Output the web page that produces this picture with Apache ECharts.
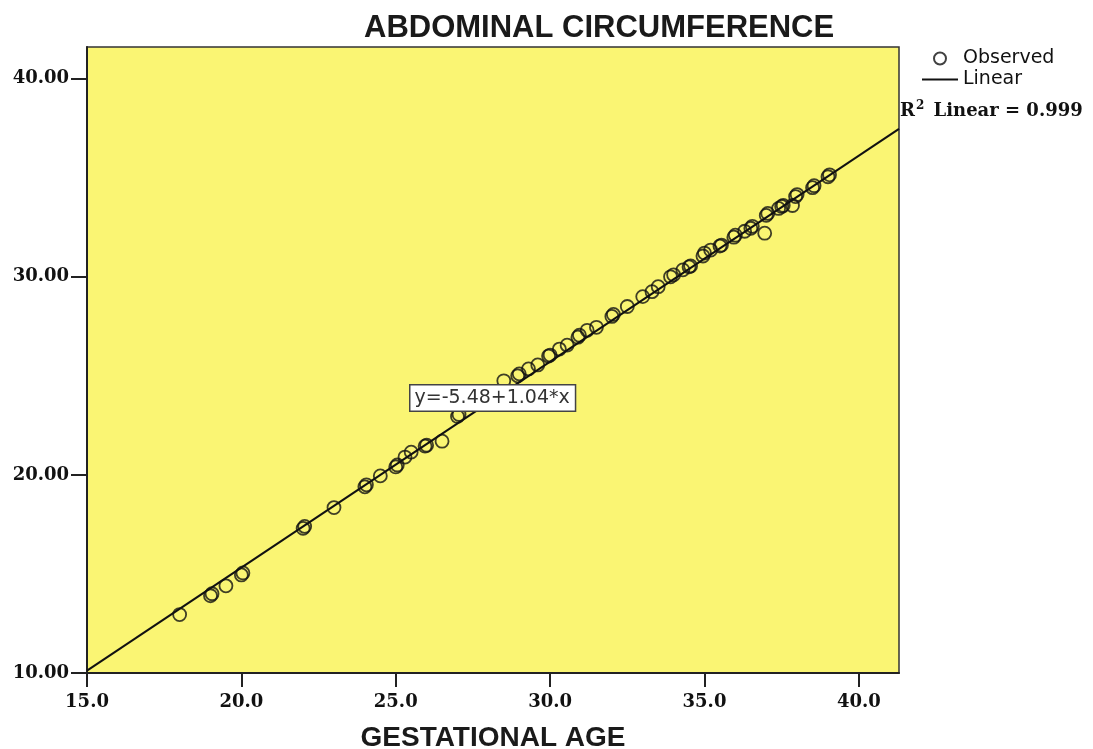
<!DOCTYPE html>
<html>
<head>
<meta charset="utf-8">
<title>Abdominal circumference</title>
<script src="https://cdn.jsdelivr.net/npm/echarts@6/dist/echarts.min.js"></script>
<style>
  html, body { margin: 0; padding: 0; background: #fff; }
  #chart { width: 1093px; height: 749px; }
</style>
</head>
<body>
<div id="chart"></div>
<script>
// observed points (gestational age in weeks, abdominal circumference in cm)
const ageX = [
  18.0, 19.0, 19.05, 19.5, 20.0, 20.05, 22.0, 22.05, 23.0, 24.0,
  24.05, 24.5, 25.0, 25.05, 25.3, 25.5, 25.95, 26.0, 26.5, 27.0,
  27.05, 28.5, 28.95, 29.0, 29.3, 29.6, 29.95, 30.0, 30.3, 30.55,
  30.9, 30.95, 31.2, 31.5, 32.0, 32.05, 32.5, 33.0, 33.3, 33.5,
  33.9, 34.0, 34.3, 34.5, 34.55, 34.95, 35.0, 35.2, 35.5, 35.55,
  35.95, 36.0, 36.3, 36.5, 36.55, 36.95, 37.0, 37.05, 37.4, 37.5,
  37.55, 37.85, 37.95, 38.0, 38.5, 38.55, 39.0, 39.05
];
const acY = [
  12.95, 13.9, 14.0, 14.4, 14.95, 15.05, 17.3, 17.4, 18.35, 19.4,
  19.5, 19.95, 20.4, 20.5, 20.9, 21.15, 21.45, 21.5, 21.7, 22.95,
  23.05, 24.75, 25.0, 25.1, 25.35, 25.55, 26.0, 26.05, 26.35, 26.55,
  26.95, 27.05, 27.3, 27.45, 28.0, 28.1, 28.5, 29.0, 29.25, 29.5,
  30.0, 30.1, 30.35, 30.5, 30.55, 31.05, 31.2, 31.35, 31.55, 31.6,
  32.0, 32.1, 32.3, 32.45, 32.55, 32.2, 33.1, 33.2, 33.45, 33.55,
  33.6, 33.6, 34.05, 34.15, 34.5, 34.6, 35.05, 35.15
];

// fitted line y = -5.48 + 1.04*x, at the two ends of the x axis
const lineX = [15, 41.3];
const lineY = [10.12, 37.47];

const xTicks = [15, 20, 25, 30, 35, 40];
const yTicks = [10, 20, 30, 40];

const equationText = 'y=-5.48+1.04*x';
const r2Text = '0.999';

const chart = echarts.init(document.getElementById('chart'));

const labelFont = {
  fontFamily: 'DejaVu Serif',
  fontWeight: 'bold',
  fontSize: 18,
  color: '#111'
};

chart.setOption({
  animation: false,
  backgroundColor: '#fff',
  title: {
    text: 'ABDOMINAL CIRCUMFERENCE',
    left: 364,
    top: 13,
    padding: 0,
    textStyle: {
      fontFamily: 'Liberation Sans',
      fontWeight: 'bold',
      fontSize: 31,
      color: '#1a1a1a'
    }
  },
  legend: {
    orient: 'vertical',
    left: 922,
    top: 49,
    padding: 0,
    itemWidth: 36,
    itemHeight: 12,
    itemGap: 2,
    textStyle: {
      fontFamily: 'DejaVu Sans',
      fontSize: 19,
      color: '#111'
    },
    data: [
      { name: 'Observed' },
      { name: 'Linear', icon: 'path://M0,0 L36,0 L36,1.8 L0,1.8 Z', itemStyle: { color: '#111' } }
    ]
  },
  grid: {
    left: 87,
    right: 194,
    top: 47,
    bottom: 76,
    outerBoundsMode: 'none',
    containLabel: false,
    show: true,
    backgroundColor: '#faf573',
    borderColor: '#333',
    borderWidth: 1.5
  },
  xAxis: {
    type: 'value',
    min: 15,
    max: 41.3,
    interval: 5,
    name: 'GESTATIONAL AGE',
    nameLocation: 'middle',
    nameGap: 51,
    nameTextStyle: {
      fontFamily: 'Liberation Sans',
      fontWeight: 'bold',
      fontSize: 28,
      color: '#1a1a1a'
    },
    axisLine: { show: true, onZero: false, lineStyle: { color: '#222', width: 2 } },
    axisTick: {
      show: true,
      length: 14,
      customValues: xTicks,
      lineStyle: { color: '#222', width: 2 }
    },
    axisLabel: Object.assign({
      margin: 20,
      customValues: xTicks,
      formatter: v => v.toFixed(1)
    }, labelFont),
    splitLine: { show: false }
  },
  yAxis: {
    type: 'value',
    min: 10,
    max: 41.6,
    interval: 10,
    axisLine: { show: true, onZero: false, lineStyle: { color: '#222', width: 2 } },
    axisTick: {
      show: true,
      length: 16,
      customValues: yTicks,
      lineStyle: { color: '#222', width: 2 }
    },
    axisLabel: Object.assign({
      margin: 18,
      customValues: yTicks,
      formatter: v => v.toFixed(2)
    }, labelFont),
    splitLine: { show: false }
  },
  series: [
    {
      name: 'Observed',
      type: 'scatter',
      symbol: 'circle',
      symbolSize: 13,
      itemStyle: {
        color: 'transparent',
        borderColor: '#111',
        borderWidth: 1.8
      },
      data: ageX.map((x, i) => [x, acY[i]])
    },
    {
      name: 'Linear',
      type: 'line',
      symbol: 'none',
      itemStyle: { color: '#111' },
      lineStyle: { color: '#111', width: 2 },
      data: lineX.map((x, i) => [x, lineY[i]])
    }
  ],
  graphic: [
    {
      type: 'text',
      left: 409,
      top: 384,
      z: 100,
      style: {
        text: equationText,
        fontFamily: 'DejaVu Sans',
        fontSize: 19,
        fill: '#333',
        backgroundColor: '#fff',
        borderColor: '#444',
        borderWidth: 1.5,
        padding: [3, 5, 3, 4]
      }
    },
    {
      type: 'text',
      left: 900,
      top: 100,
      z: 100,
      style: {
        text: '{r|R}{s|2}{r| Linear = ' + r2Text + '}',
        rich: {
          r: { fontFamily: 'DejaVu Serif', fontWeight: 'bold', fontSize: 18, fill: '#111' },
          s: { fontFamily: 'DejaVu Serif', fontWeight: 'bold', fontSize: 12, fill: '#111', padding: [0, 3, 10, 1] }
        }
      }
    }
  ]
});

window.addEventListener('resize', function () {
  chart.resize();
});
</script>
</body>
</html>
